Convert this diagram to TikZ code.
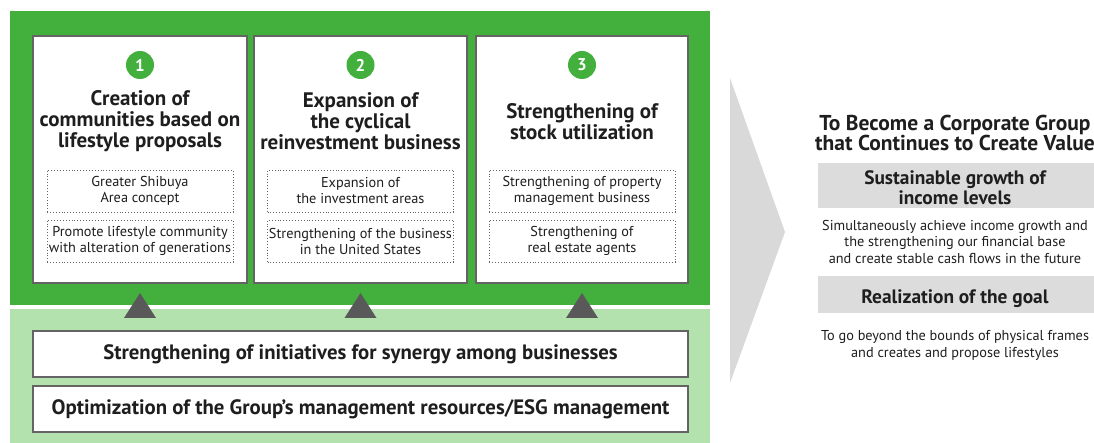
\documentclass[tikz,border=0pt]{standalone}
\usepackage{fontspec}
\setmainfont{PT Sans}
\definecolor{darkgreen}{RGB}{67,176,62}
\definecolor{lightgreen}{RGB}{179,226,175}
\definecolor{chevrongray}{RGB}{217,217,217}
\definecolor{boxgray}{RGB}{220,220,220}
\definecolor{framegray}{RGB}{100,100,100}
\definecolor{tridark}{RGB}{89,89,89}
\definecolor{txt}{RGB}{30,30,30}
\tikzset{
  panel/.style={draw=framegray, line width=1.2pt, fill=white},
  numcirc/.style={circle, fill=darkgreen, text=white, minimum size=28pt, inner sep=0pt,
    font=\bfseries\fontsize{17}{17}\selectfont},
  ptitle/.style={align=center, text=txt, inner sep=0pt,
    font=\bfseries\fontsize{21}{21}\selectfont},
  subbox/.style={draw=framegray, dotted, line width=0.9pt, minimum width=186pt,
    minimum height=42pt, inner sep=0pt, align=center, text=txt,
    font=\fontsize{14.3}{16}\selectfont},
  bar/.style={draw=framegray, line width=1.2pt, fill=white, minimum width=655pt,
    minimum height=46pt, inner sep=0pt, text=txt,
    font=\bfseries\fontsize{20.8}{21}\selectfont},
  rtitle/.style={align=center, text=txt, inner sep=0pt,
    font=\bfseries\fontsize{21.5}{20}\selectfont},
  graybox/.style={fill=boxgray, minimum width=276pt, inner sep=0pt},
  glabel/.style={align=center, text=txt, inner sep=0pt,
    font=\bfseries\fontsize{19.4}{20}\selectfont},
  desc/.style={align=center, text=txt, inner sep=0pt,
    font=\fontsize{14.3}{16.5}\selectfont},
  tri/.style={fill=tridark}
}
\begin{document}
\begin{tikzpicture}[x=1pt, y=-1pt]
\useasboundingbox (0,0) rectangle (1094,443);

% background bands
\fill[darkgreen] (10,11) rectangle (710,305);
\fill[lightgreen] (10,309) rectangle (710,443);

% the three pillars
\foreach \xa/\xb in {33/247, 254/467, 476/688} {
  \draw[panel] (\xa,36) rectangle (\xb,283);
}
\node[numcirc] (n1) at (140,65) {1};
\node[numcirc] (n2) at (360.5,65) {2};
\node[numcirc] (n3) at (582,65) {3};

\node[ptitle] (t1) at (140,121) {Creation of\\communities based on\\lifestyle proposals};
\node[ptitle] (t2) at (360.5,121) {Expansion of\\the cyclical\\reinvestment business};
\node[ptitle] (t3) at (582,121.5) {Strengthening of\\stock utilization};

\node[subbox] (s11) at (140,191) {Greater Shibuya\\Area concept};
\node[subbox] (s12) at (140,241) {Promote lifestyle community\\with alteration of generations};
\node[subbox] (s21) at (360.5,191) {Expansion of\\the investment areas};
\node[subbox] (s22) at (360.5,241) {Strengthening of the business\\in the United States};
\node[subbox] (s31) at (582,191) {Strengthening of property\\management business};
\node[subbox] (s32) at (582,241) {Strengthening of\\real estate agents};

% supporting foundations
\foreach \x in {140,360.5,582} {
  \fill[tri] (\x-16,318) -- (\x,293) -- (\x+16,318) -- cycle;
}
\node[bar] (b1) at (360.5,354) {Strengthening of initiatives for synergy among businesses};
\node[bar] (b2) at (360.5,409) {Optimization of the Group’s management resources/ESG management};

% chevron
\fill[chevrongray] (730,78) -- (785,232) -- (730,383) -- cycle;

% goal column
\node[rtitle] (g) at (955,133) {To Become a Corporate Group\\that Continues to Create Value};
\node[graybox, minimum height=45pt] (g1) at (956,185.5) {};
\node[glabel] (g1t) at (955,187.5) {Sustainable growth of\\income levels};
\node[desc] (d1) at (955,241.5) {Simultaneously achieve income growth and\\the strengthening our financial base\\and create stable cash flows in the future};
\node[graybox, minimum height=37pt] (g2) at (956,294.5) {};
\node[glabel] (g2t) at (955,299) {Realization of the goal};
\node[desc] (d2) at (955,345.5) {To go beyond the bounds of physical frames\\and creates and propose lifestyles};
\end{tikzpicture}
\end{document}
